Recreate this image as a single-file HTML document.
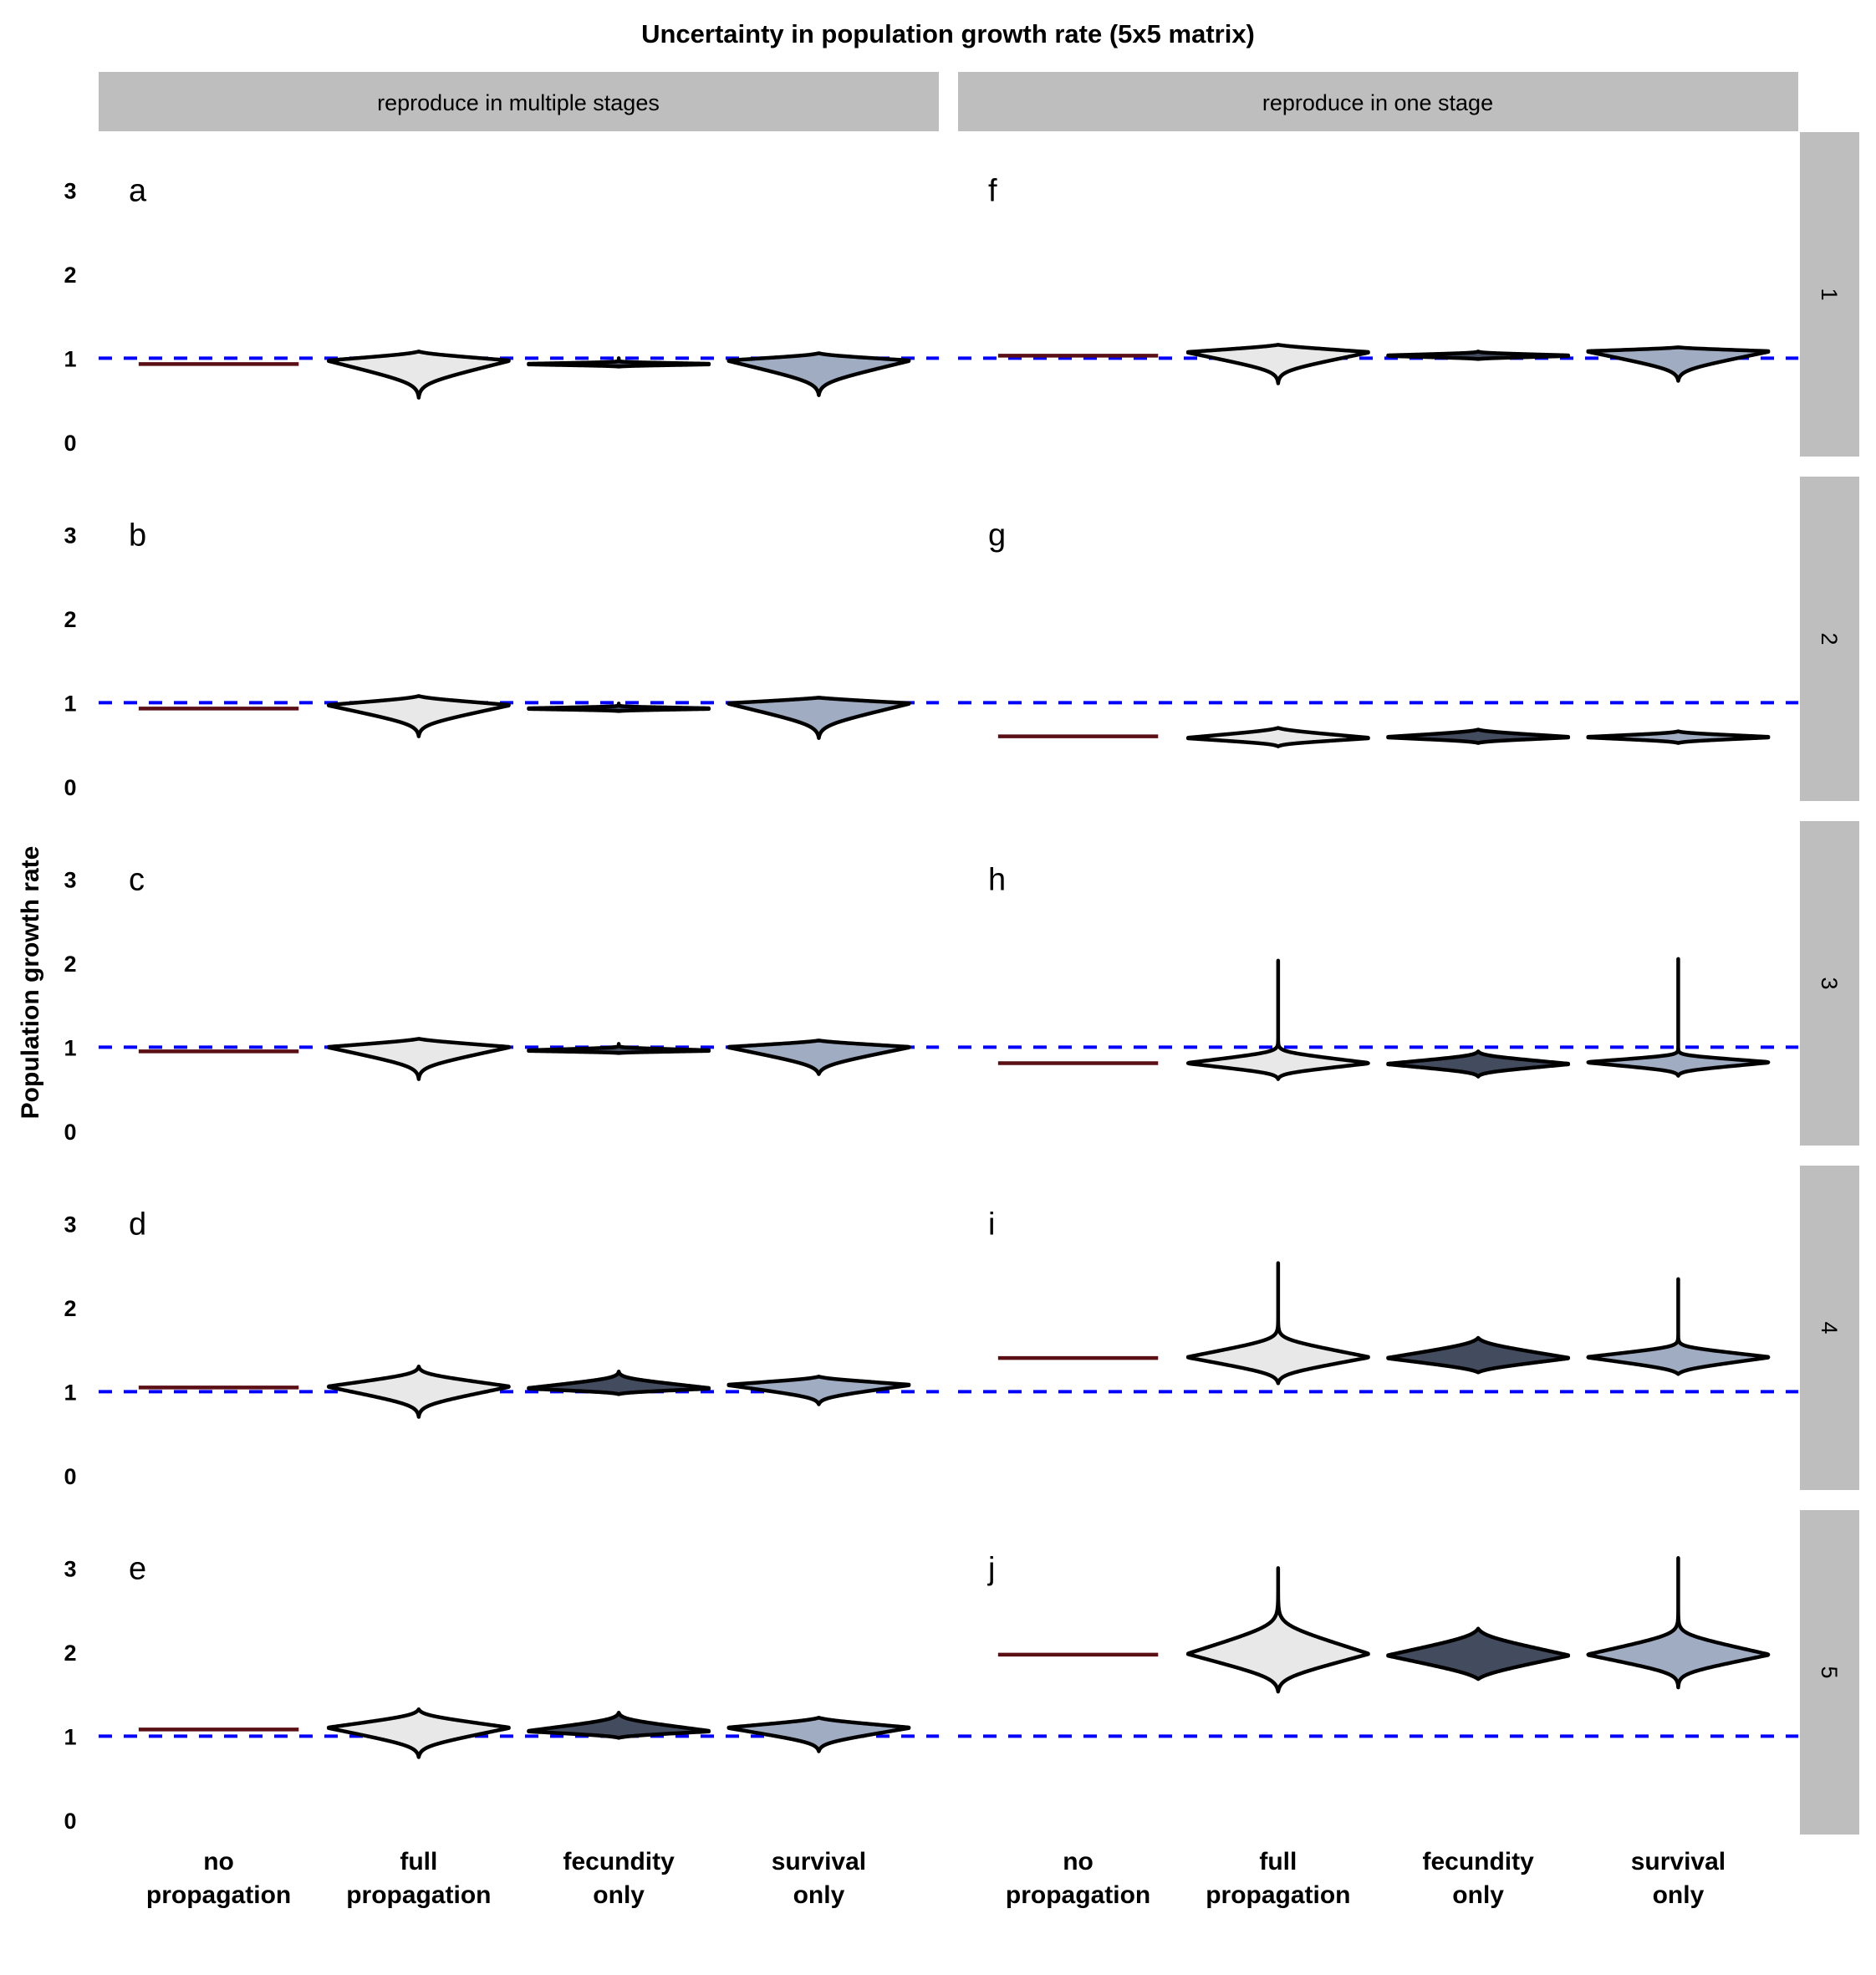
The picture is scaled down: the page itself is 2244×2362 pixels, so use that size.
<!DOCTYPE html>
<html><head><meta charset="utf-8">
<style>
html,body{margin:0;padding:0;background:#fff;}
svg{display:block;}
text{font-family:"Liberation Sans",sans-serif;}
</style></head>
<body>
<svg id="chart" width="2244" height="2362" viewBox="0 0 2244 2362" xmlns="http://www.w3.org/2000/svg">
<text x="1134" y="51" text-anchor="middle" font-size="31" font-weight="bold">Uncertainty in population growth rate (5x5 matrix)</text>
<g>
<rect x="118" y="86" width="1005" height="71" fill="#bebebe"/>
<text x="620" y="132" text-anchor="middle" font-size="27">reproduce in multiple stages</text>
</g>
<g>
<rect x="1146" y="86" width="1005" height="71" fill="#bebebe"/>
<text x="1648" y="132" text-anchor="middle" font-size="27">reproduce in one stage</text>
</g>
<text transform="translate(46,1175) rotate(-90)" text-anchor="middle" font-size="30" font-weight="bold">Population growth rate</text>
<g id="panels"></g>
</svg>
<script>
const panelLetters = ['a','b','c','d','e','f','g','h','i','j'];
const categories = ['no\npropagation','full\npropagation','fecundity\nonly','survival\nonly'];
const yTicks = [0,1,2,3];
const rowLabels = ['1','2','3','4','5'];
const noProp  = [0.93,0.93,0.95,1.05,1.08, 1.03,0.60,0.81,1.40,1.97];
const fullMid = [0.97,0.97,1.00,1.06,1.10, 1.07,0.58,0.81,1.41,1.98];
const fullMin = [0.53,0.60,0.62,0.70,0.75, 0.70,0.48,0.62,1.10,1.53];
const fullMax = [1.08,1.08,1.10,1.30,1.32, 1.16,0.70,2.03,2.53,3.00];
const fullBodyLo = [0.27,0.23,0.23,0.22,0.22, 0.22,0.07,0.12,0.20,0.29];
const fullBodyHi = [0.09,0.09,0.09,0.15,0.15, 0.08,0.10,0.13,0.21,0.34];
const fecMid  = [0.93,0.93,0.96,1.04,1.06, 1.03,0.59,0.80,1.40,1.96];
const fecMin  = [0.90,0.90,0.93,0.97,0.98, 0.99,0.52,0.65,1.23,1.68];
const fecMax  = [1.00,0.99,1.04,1.24,1.28, 1.08,0.68,0.95,1.64,2.28];
const fecBodyLo = [0.02,0.02,0.02,0.05,0.06, 0.03,0.05,0.10,0.14,0.24];
const fecBodyHi = [0.02,0.02,0.03,0.12,0.14, 0.03,0.07,0.10,0.18,0.24];
const survMid = [0.97,0.99,1.00,1.08,1.10, 1.08,0.59,0.82,1.41,1.97];
const survMin = [0.56,0.58,0.68,0.85,0.82, 0.73,0.52,0.66,1.21,1.58];
const survMax = [1.06,1.06,1.08,1.18,1.22, 1.13,0.66,2.05,2.34,3.12];
const survBodyLo = [0.26,0.26,0.22,0.15,0.18, 0.22,0.05,0.10,0.15,0.22];
const survBodyHi = [0.07,0.07,0.07,0.08,0.10, 0.04,0.05,0.08,0.12,0.24];

const NS='http://www.w3.org/2000/svg';
const root=document.getElementById('panels');
const colX=[118,1146], panelW=1005, panelTop0=158, panelH=388, rowStep=412;
const yMinV=-0.17, yMaxV=3.69;
function mk(tag,attrs,parent){const e=document.createElementNS(NS,tag);for(const k in attrs)e.setAttribute(k,attrs[k]);(parent||root).appendChild(e);return e;}
function bandStep(){return panelW/(categories.length-1+1.2);}
function xScale(col,i){return colX[col]+bandStep()*(0.6+i);}
function yScale(row,v){const top=panelTop0+row*rowStep;return top+(yMaxV-v)/(yMaxV-yMinV)*panelH;}

function violinPath(col,row,ci,mid,lo,hi,bLo,bHi){
  const cx=xScale(col,ci), W=bandStep()*0.45, k=0.18;
  const sp=u=>k*Math.log(1+Math.exp(u/k));
  function side(d,D,B){
    if(D<=0)return 0;
    d=Math.max(0,d-0.004);
    const tail=sp(1-(D-0.004)/B);
    return Math.max(0,W*(sp(1-d/B)-tail)/(sp(1)-tail));
  }
  function hw(v){return v<mid?side(mid-v,mid-lo,bLo):side(v-mid,hi-mid,bHi);}
  const N=260,pts=[];
  for(let j=0;j<=N;j++){const v=lo+(hi-lo)*j/N;pts.push([v,hw(v)]);}
  let d='';
  pts.forEach((p,j)=>{d+=(j?'L':'M')+(cx+p[1]).toFixed(2)+','+yScale(row,p[0]).toFixed(2);});
  for(let j=pts.length-1;j>=0;j--){const p=pts[j];d+='L'+(cx-p[1]).toFixed(2)+','+yScale(row,p[0]).toFixed(2);}
  return d+'Z';
}

const fills=['#e8e8e8','#434b5e','#9facc2'];
const series=[[fullMid,fullMin,fullMax,fullBodyLo,fullBodyHi],[fecMid,fecMin,fecMax,fecBodyLo,fecBodyHi],[survMid,survMin,survMax,survBodyLo,survBodyHi]];
const seriesNames=['full-propagation','fecundity-only','survival-only'];

for(let p=0;p<panelLetters.length;p++){
  const col=p<5?0:1,row=p%5;
  const g=mk('g',{});
  
  
  if(col===0){
    yTicks.forEach(t=>{
      const tx=mk('text',{x:84,y:yScale(row,t)+10,'text-anchor':'middle','font-size':27,'font-weight':'bold'},g);
      tx.textContent=t;
      
      
    });
  }
  const lt=mk('text',{x:colX[col]+36,y:yScale(row,3)+13,'font-size':38},g);
  lt.textContent=panelLetters[p];
  
  
  const ref=mk('line',{x1:colX[col],x2:colX[col]+panelW,y1:yScale(row,1),y2:yScale(row,1),stroke:'#0000ff','stroke-width':4,'stroke-dasharray':'16,14'},g);
  
  
  const hw0=bandStep()*0.4;
  const np=mk('line',{x1:xScale(col,0)-hw0,x2:xScale(col,0)+hw0,y1:yScale(row,noProp[p]),y2:yScale(row,noProp[p]),stroke:'#5a0f14','stroke-width':4.5},g);
  
  
  series.forEach((s,si)=>{
    const v=mk('path',{d:violinPath(col,row,si+1,s[0][p],s[1][p],s[2][p],s[3][p],s[4][p]),fill:fills[si],stroke:'#000','stroke-width':4.5,'stroke-linejoin':'round'},g);
    
    
  });
  if(col===1){
    const sg=mk('g',{},g);
    
    
    const top=panelTop0+row*rowStep;
    mk('rect',{x:2153,y:top,width:71,height:panelH,fill:'#bebebe'},sg);
    const st=mk('text',{x:0,y:0,'text-anchor':'middle','font-size':27,transform:'translate(2179,'+(top+panelH/2)+') rotate(90)'},sg);
    st.textContent=rowLabels[row];
  }
}
for(let col=0;col<2;col++){
  categories.forEach((c,i)=>{
    const lines=c.split('\n');
    lines.forEach((ln,li)=>{
      const t=mk('text',{x:xScale(col,i),y:2236+li*40,'text-anchor':'middle','font-size':30,'font-weight':'bold'});
      t.textContent=ln;
      
      
    });
  });
}
</script>
</body></html>
